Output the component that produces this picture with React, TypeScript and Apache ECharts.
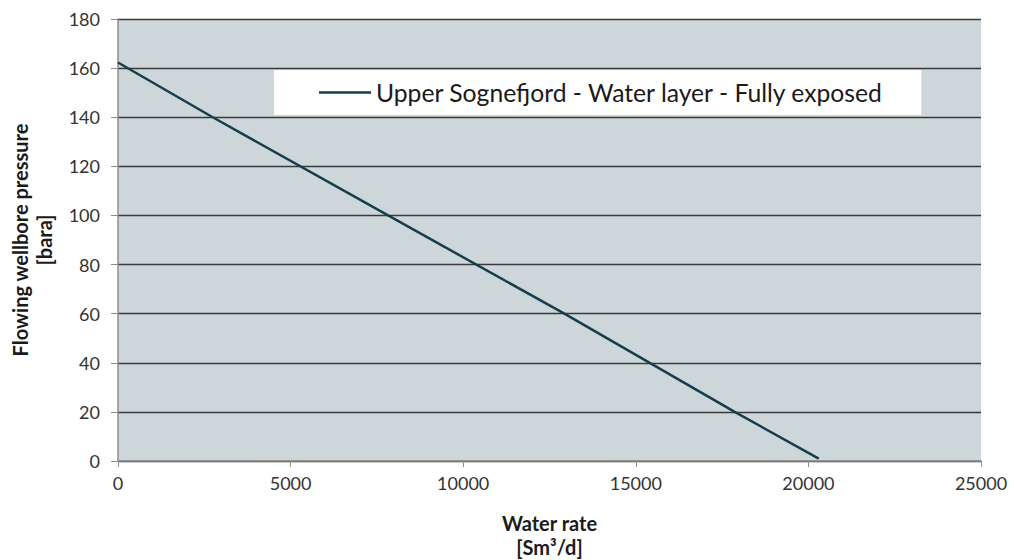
import React, { useEffect, useRef } from "react";
import * as echarts from "echarts";

const seriesName = "Upper Sognefjord - Water layer - Fully exposed";
const waterRate = [0, 2745, 7824, 12931, 17864, 20300];
const pressure = [162.3, 140, 100, 60, 20, 1];
const xTitle = "Water rate\n[Sm³/d]";
const yTitle = "Flowing wellbore pressure\n[bara]";

export default function App() {
  const ref = useRef<HTMLDivElement>(null);
  useEffect(() => {
    if (!ref.current) return;
    const chart = echarts.init(ref.current, undefined, { renderer: "svg" });
    const font = "Lato, 'Open Sans', sans-serif";
    chart.setOption({
      animation: false,
      backgroundColor: "#ffffff",
      textStyle: { fontFamily: font },
      grid: {
        left: 118,
        right: 33,
        top: 19,
        bottom: 99,
        show: true,
        containLabel: false,
        outerBoundsMode: "none",
        backgroundColor: "#cdd6d9",
        borderWidth: 0,
      },
      legend: {
        left: 274,
        top: 70,
        padding: [10, 37, 10, 45],
        backgroundColor: "#ffffff",
        icon: "rect",
        itemWidth: 52,
        itemHeight: 2.5,
        itemGap: 5,
        itemStyle: { color: "#173f4b" },
        textStyle: { fontSize: 24.7, color: "#1a1a1a", fontFamily: font },
        data: [seriesName],
      },
      xAxis: {
        type: "value",
        min: 0,
        max: 25000,
        interval: 5000,
        name: xTitle,
        nameLocation: "middle",
        nameGap: 50,
        nameTextStyle: {
          fontSize: 20,
          fontWeight: "bold",
          color: "#1a1a1a",
          lineHeight: 24,
          fontFamily: font,
        },
        axisLine: { show: true, lineStyle: { color: "#8c8c8c", width: 1.5 } },
        axisTick: { show: true, length: 6, lineStyle: { color: "#8c8c8c" } },
        axisLabel: {
          fontSize: 18,
          color: "#333333",
          margin: 13,
          fontFamily: font,
          formatter: (v: number) => String(v),
        },
        splitLine: { show: false },
      },
      yAxis: {
        type: "value",
        min: 0,
        max: 180,
        interval: 20,
        name: yTitle,
        nameLocation: "middle",
        nameRotate: 90,
        nameGap: 62,
        nameTextStyle: {
          fontSize: 20,
          fontWeight: "bold",
          color: "#1a1a1a",
          lineHeight: 24,
          fontFamily: font,
        },
        axisLine: { show: true, lineStyle: { color: "#8c8c8c", width: 1.5 } },
        axisTick: { show: true, length: 7, lineStyle: { color: "#8c8c8c" } },
        axisLabel: {
          fontSize: 18,
          color: "#333333",
          margin: 18,
          fontFamily: font,
          formatter: (v: number) => String(v),
        },
        splitLine: { show: true, lineStyle: { color: "#3a3a3a", width: 1.3 } },
      },
      series: [
        {
          name: seriesName,
          type: "line",
          symbol: "none",
          data: waterRate.map((x, i) => [x, pressure[i]]),
          lineStyle: { color: "#173f4b", width: 2.5 },
          itemStyle: { color: "#173f4b" },
        },
      ],
    });
    return () => chart.dispose();
  }, []);
  return <div ref={ref} style={{ width: 1014, height: 560, position: "absolute", left: 0, top: 0 }} />;
}
